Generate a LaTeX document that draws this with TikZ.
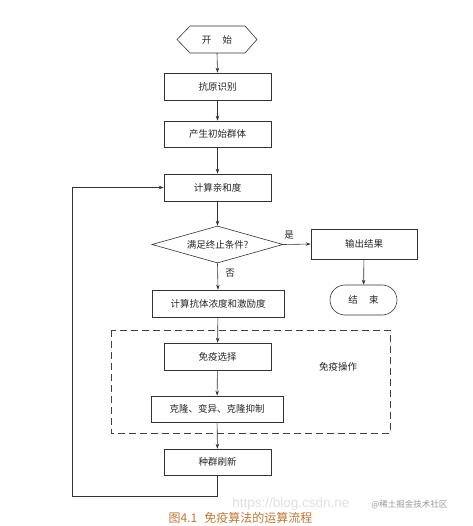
\documentclass[tikz,border=0pt]{standalone}
\usepackage{fontspec}
\setmainfont{Noto Sans CJK SC}
\newfontfamily\cjk{Noto Sans CJK SC}
\usetikzlibrary{shapes.geometric,shapes.misc,arrows.meta}
\begin{document}
\begin{tikzpicture}[x=1pt,y=-1pt,
  line width=0.6pt,
  every node/.style={font=\cjk\fontsize{9.5}{11}\selectfont, text=black!85},
  pbox/.style={draw=black!80, minimum height=27pt, inner sep=0pt},
  arr/.style={draw=black!80,-{Stealth[length=5pt,width=3.5pt]}},
  ln/.style={draw=black!80}]
\useasboundingbox (0,0) rectangle (472,526);
\fill[white] (0,0) rectangle (472,526);
% start hexagon
\draw[black!80] (177,39.5) -- (190,26) -- (245,26) -- (257,39.5) -- (245,53) -- (190,53) -- cycle;
\node (start) at (217,39.5) {开\hspace{1.2em}始};
\coordinate (startb) at (217,53);
\node[pbox, minimum width=107pt] (a1) at (217.5,86.5) {抗原识别};
\node[pbox, minimum width=107pt, minimum height=26pt] (a2) at (217.5,134) {产生初始群体};
\node[pbox, minimum width=107pt] (a3) at (217.5,187.5) {计算亲和度};
\node[diamond, draw=black!80, aspect=3.6, minimum width=131pt, minimum height=37pt, inner sep=0pt] (d) at (217.5,244.5) {满足终止条件?};
\node[pbox, minimum width=106pt, minimum height=30pt] (out) at (364,244) {输出结果};
\node[rounded rectangle, draw=black!80, minimum width=67pt, minimum height=30pt, inner sep=0pt] (end) at (363.5,300) {结\hspace{1.2em}束};
\node[pbox, minimum width=132pt] (b1) at (218,303.5) {计算抗体浓度和激励度};
\draw[dashed, draw=black!75, dash pattern=on 7pt off 4pt] (111,330) rectangle (390,433);
\node (op) at (338,367) {免疫操作};
\node[pbox, minimum width=107pt] (c1) at (217.5,356.5) {免疫选择};
\node[pbox, minimum width=132pt, minimum height=26pt] (c2) at (217,409) {克隆、变异、克隆抑制};
\node[pbox, minimum width=107pt, minimum height=26pt] (c3) at (217.5,462) {种群刷新};
% connectors
\draw[arr] (startb) -- (a1.north);
\draw[arr] (a1) -- (a2);
\draw[arr] (a2) -- (a3);
\draw[arr] (a3) -- (d.north);
\draw[arr] (d.east) -- (out.west);
\node at (289,235) {是};
\draw[arr] (out) -- (end);
\draw[arr] (d.south) -- (b1.north);
\node at (230,273) {否};
\draw[arr] (b1) -- (c1);
\draw[arr] (c1) -- (c2);
\draw[arr] (c2) -- (c3);
\coordinate (l1) at (217.5,496);
\coordinate (l2) at (72,496);
\coordinate (l3) at (72,187.5);
\draw[ln] (c3.south) -- (l1) -- (l2) -- (l3);
\draw[arr] (l3) -- (a3.west);
% caption
\node[text={rgb,255:red,190;green,120;blue,50}, font=\cjk\fontsize{12}{14}\selectfont] (cap) at (240.5,518) {图4.1\hspace{0.6em}免疫算法的运算流程};
% watermark
\node[text=black!12, anchor=west, inner sep=0pt, font=\fontspec{Liberation Sans}\fontsize{13.5}{15}\selectfont] (wm1) at (232,504) {https://blog.csdn.ne};
\node[text=black!40, anchor=west, inner sep=0pt, font=\cjk\fontsize{8.5}{10}\selectfont] (wm2) at (371,505) {@稀土掘金技术社区};
\end{tikzpicture}
\end{document}
